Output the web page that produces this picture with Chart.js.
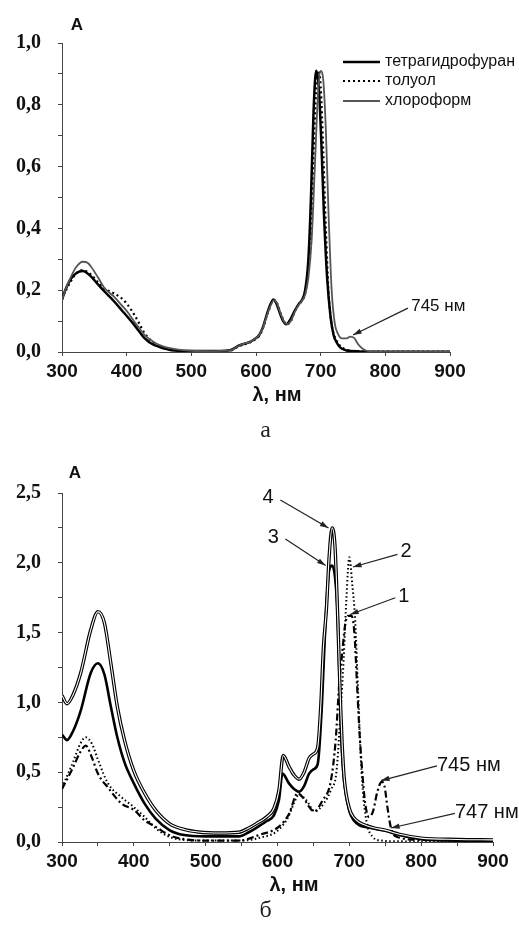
<!DOCTYPE html>
<html>
<head>
<meta charset="utf-8">
<script src="https://cdn.jsdelivr.net/npm/chart.js@4.4.1/dist/chart.umd.min.js"></script>
<style>
  body { margin: 0; background: #fff; width: 519px; height: 931px; position: relative; overflow: hidden; }
  canvas { position: absolute; left: 0; }
  #chartA { top: 0; }
  #chartB { top: 440px; }
  .cap { position: absolute; left: 6px; width: 519px; text-align: center;
         font-family: 'Liberation Serif', serif; font-size: 24px; color: #222; }
</style>
</head>
<body>
<canvas id="chartA" width="519" height="420"></canvas>
<div class="cap" style="top:416px">а</div>
<canvas id="chartB" width="519" height="470"></canvas>
<div class="cap" style="top:896px">б</div>
<script>
// ---- panel а: solvents ----
const thfNm = [300,305,314,322,332,345,356,366,380,392,402,412,420,428,440,450,460,469,480,500,530,560,575,590,598,605,611,618,627,632,637,642,647,653,660,666,671,676,681,685,689,693,697,701,705,710,715,720,725,730,740,760,800,900];
const thfA  = [0.17,0.2,0.238,0.255,0.262,0.244,0.218,0.195,0.165,0.136,0.112,0.087,0.065,0.044,0.025,0.017,0.01,0.006,0.004,0.003,0.003,0.006,0.022,0.032,0.042,0.055,0.082,0.13,0.17,0.155,0.125,0.1,0.09,0.105,0.134,0.155,0.168,0.2,0.3,0.5,0.78,0.91,0.86,0.68,0.45,0.24,0.12,0.055,0.03,0.015,0.005,0.002,0.001,0.001];

const tolNm = [300,305,314,322,332,345,356,366,380,392,400,412,420,428,440,450,460,469,480,500,530,560,575,590,598,605,611,618,628,633,638,643,648,654,660,666,671,676,681,686,690,694,697,700,704,708,712,716,720,725,730,740,760,800,900];
const tolA  = [0.17,0.195,0.23,0.255,0.265,0.25,0.225,0.205,0.19,0.174,0.157,0.12,0.09,0.06,0.033,0.02,0.012,0.008,0.005,0.003,0.003,0.005,0.02,0.03,0.04,0.053,0.078,0.125,0.168,0.155,0.125,0.1,0.09,0.1,0.132,0.153,0.166,0.19,0.27,0.45,0.7,0.88,0.91,0.86,0.65,0.4,0.2,0.1,0.06,0.035,0.02,0.007,0.002,0.001,0.001];

const chlNm = [300,305,314,322,332,340,345,356,366,380,392,402,412,420,428,440,450,460,469,480,500,530,560,575,590,598,605,611,618,628,633,638,643,648,654,660,666,671,676,681,686,691,696,700,704,708,712,717,722,727,733,740,746,752,758,764,771,780,800,900];
const chlA  = [0.168,0.2,0.244,0.275,0.292,0.288,0.276,0.24,0.206,0.18,0.152,0.128,0.098,0.076,0.055,0.035,0.023,0.016,0.012,0.008,0.004,0.003,0.005,0.022,0.032,0.042,0.055,0.08,0.125,0.168,0.155,0.125,0.1,0.09,0.1,0.13,0.152,0.165,0.185,0.24,0.36,0.6,0.84,0.91,0.88,0.72,0.46,0.2,0.09,0.058,0.044,0.044,0.05,0.045,0.025,0.012,0.004,0.002,0.001,0.001];

const solventNames = ['тетрагидрофуран', 'толуол', 'хлороформ'];

// ---- panel б: curves 1-4 ----
const c1Nm = [300,316,325,333,342,350,364,383,400,415,430,450,470,500,546,574,602,616,628,635,651,663,674,681,686,690,694,698,703,707,711,714,718,722,727,733,739,745,749,753,758,765,800,900];
const c1A  = [0.38,0.54,0.64,0.69,0.6,0.49,0.39,0.275,0.23,0.155,0.11,0.048,0.02,0.01,0.01,0.05,0.11,0.2,0.35,0.32,0.22,0.3,0.43,0.73,1.14,1.35,1.55,1.62,1.62,1.5,1.1,0.8,0.5,0.28,0.18,0.22,0.36,0.43,0.4,0.25,0.1,0.04,0.015,0.01];

const c2Nm = [300,316,325,333,342,350,364,383,400,415,430,450,470,500,550,575,600,615,623,630,640,652,665,675,682,688,692,696,700,704,708,712,716,720,725,732,745,770,800,900];
const c2A  = [0.39,0.58,0.7,0.75,0.7,0.59,0.42,0.32,0.25,0.18,0.1,0.036,0.015,0.01,0.01,0.03,0.08,0.18,0.28,0.34,0.3,0.22,0.28,0.38,0.5,0.95,1.3,1.75,2.04,1.85,1.6,1.1,0.6,0.3,0.12,0.04,0.01,0.005,0.003,0.003];

const c3Nm = [300,307,315,326,340,350,359,368,377,387,400,415,430,450,470,500,546,560,570,585,595,602,607,616,623,630,637,644,650,656,662,667,672,676,680,684,686,688,690,693,700,707,714,725,735,750,770,800,850,900];
const c3A  = [0.77,0.73,0.79,0.94,1.21,1.28,1.2,0.97,0.75,0.57,0.42,0.275,0.17,0.084,0.05,0.04,0.04,0.07,0.1,0.15,0.19,0.3,0.49,0.42,0.38,0.36,0.4,0.49,0.52,0.56,1.0,1.6,1.95,1.98,1.9,1.6,1.22,0.85,0.62,0.42,0.22,0.15,0.12,0.105,0.095,0.08,0.05,0.02,0.01,0.01];

const c4Nm = [300,307,315,326,340,350,359,368,377,387,400,415,430,450,470,490,520,546,560,570,585,595,602,608,616,623,630,637,644,650,656,660,664,668,672,676,680,683.5,686,688,690,693,700,707,714,725,735,750,770,800,850,900];
const c4A  = [1.05,0.99,1.05,1.21,1.52,1.65,1.57,1.28,0.97,0.73,0.51,0.35,0.23,0.13,0.09,0.072,0.065,0.07,0.1,0.13,0.18,0.24,0.37,0.62,0.54,0.48,0.45,0.5,0.6,0.63,0.68,0.95,1.4,1.66,2.05,2.25,2.12,1.66,1.26,0.95,0.7,0.45,0.24,0.17,0.14,0.115,0.1,0.085,0.055,0.028,0.018,0.015];

function pts(xs, ys) {
    return xs.map((v, i) => ({ x: v, y: ys[i] }));
}

function line(xs, ys, extra) {
    return Object.assign({
        data: pts(xs, ys),
        borderColor: '#000',
        borderWidth: 2,
        pointRadius: 0,
        fill: false,
        cubicInterpolationMode: 'monotone'
    }, extra);
}

function comma(v, digits) {
    return v.toFixed(digits).replace('.', ',');
}

// text, arrows and legend drawn on top of the plot
const overlay = {
    id: 'overlay',
    afterDraw(chart, args, opts) {
        const ctx = chart.ctx;
        const sx = chart.scales.x, sy = chart.scales.y;
        ctx.save();
        ctx.fillStyle = '#111';
        ctx.textBaseline = 'middle';
        ctx.textAlign = 'center';
        ctx.font = 'bold 17px "Liberation Sans", Arial, sans-serif';
        ctx.fillText('A', opts.aPos[0], opts.aPos[1]);
        ctx.font = 'bold 20px "Liberation Sans", Arial, sans-serif';
        ctx.fillText('λ, нм', opts.titlePos[0], opts.titlePos[1]);

        // arrows
        ctx.strokeStyle = '#222';
        ctx.lineWidth = 1.2;
        opts.arrows.forEach(a => {
            const fx = sx.getPixelForValue(a.from[0]), fy = sy.getPixelForValue(a.from[1]);
            const tx = sx.getPixelForValue(a.tip[0]), ty = sy.getPixelForValue(a.tip[1]);
            const ang = Math.atan2(ty - fy, tx - fx);
            ctx.beginPath();
            ctx.moveTo(fx, fy);
            ctx.lineTo(tx, ty);
            ctx.stroke();
            ctx.beginPath();
            ctx.moveTo(tx, ty);
            ctx.lineTo(tx - 9 * Math.cos(ang - 0.3), ty - 9 * Math.sin(ang - 0.3));
            ctx.lineTo(tx - 9 * Math.cos(ang + 0.3), ty - 9 * Math.sin(ang + 0.3));
            ctx.closePath();
            ctx.fillStyle = '#222';
            ctx.fill();
            const lx = sx.getPixelForValue(a.label[0]), ly = sy.getPixelForValue(a.label[1]);
            ctx.font = opts.noteSize + 'px "Liberation Sans", Arial, sans-serif';
            ctx.textAlign = a.align;
            ctx.fillStyle = '#111';
            ctx.fillText(a.text, lx, ly);
        });

        // legend with line samples
        if (opts.legend) {
            const lg = opts.legend;
            chart.data.datasets.forEach((ds, i) => {
                if (!ds.label) return;
                const y = lg.ys[i];
                ctx.beginPath();
                ctx.setLineDash(ds.borderDash || []);
                ctx.strokeStyle = ds.borderColor;
                ctx.lineWidth = ds.borderWidth;
                ctx.moveTo(lg.x0, y);
                ctx.lineTo(lg.x1, y);
                ctx.stroke();
                ctx.setLineDash([]);
                ctx.font = '16px "Liberation Sans", Arial, sans-serif';
                ctx.textAlign = 'left';
                ctx.fillStyle = '#111';
                ctx.fillText(ds.label, lg.tx, y);
            });
        }
        ctx.restore();
    }
};

function axes(yMax, yStep, yLabelEvery, xHeight) {
    const tickFontX = { family: '"Liberation Sans", Arial, sans-serif', size: 19, weight: 'bold' };
    const tickFontY = { family: '"Liberation Serif", "Times New Roman", serif', size: 20, weight: 'bold' };
    return {
        x: {
            type: 'linear', min: 300, max: 900,
            afterFit: s => { s.height = xHeight; },
            border: { color: '#444', width: 1 },
            grid: { drawOnChartArea: false, tickLength: 4, color: '#444' },
            ticks: {
                stepSize: 50, padding: 4, color: '#111', font: tickFontX, maxRotation: 0,
                callback: v => (v % 100 === 0 ? String(v) : '')
            }
        },
        y: {
            min: 0, max: yMax,
            afterFit: s => { s.width = 62; },
            border: { color: '#444', width: 1 },
            grid: { drawOnChartArea: false, tickLength: 4, color: '#444' },
            ticks: {
                stepSize: yStep, padding: 17, color: '#111', font: tickFontY,
                callback: v => {
                    const k = Math.round(v / yStep);
                    return k % yLabelEvery === 0 ? comma(v, 1) : '';
                }
            }
        }
    };
}

new Chart(document.getElementById('chartA'), {
    type: 'line',
    data: {
        datasets: [
            line(thfNm, thfA, { label: solventNames[0], borderWidth: 2.5, order: 1 }),
            line(tolNm, tolA, { label: solventNames[1], borderWidth: 2.2, borderDash: [2, 3], order: 2 }),
            line(chlNm, chlA, { label: solventNames[2], borderWidth: 1.8, borderColor: '#555', order: 0 })
        ]
    },
    options: {
        responsive: false,
        animation: false,
        layout: { padding: { top: 43, right: 69, left: 0, bottom: 0 } },
        scales: axes(1.0, 0.1, 2, 68),
        plugins: {
            legend: { display: false },
            tooltip: { enabled: false },
            overlay: {
                aPos: [77, 25],
                titlePos: [277, 395],
                noteSize: 17,
                legend: { x0: 343, x1: 380, ys: [62, 81, 101], tx: 385 },
                arrows: [
                    { from: [835, 0.142], tip: [750, 0.055], label: [840, 0.147], text: '745 нм', align: 'left' }
                ]
            }
        }
    },
    plugins: [overlay]
});

new Chart(document.getElementById('chartB'), {
    type: 'line',
    data: {
        datasets: [
            line(c4Nm, c4A, { borderWidth: 1.1, borderColor: '#fff', order: 0 }),
            line(c4Nm, c4A, { borderWidth: 3.4, order: 1 }),
            line(c3Nm, c3A, { borderWidth: 2.6, order: 2 }),
            line(c2Nm, c2A, { borderWidth: 2, borderDash: [1.5, 2.5], order: 3 }),
            line(c1Nm, c1A, { borderWidth: 2.2, borderDash: [7, 3, 2, 3], order: 4 })
        ]
    },
    options: {
        responsive: false,
        animation: false,
        layout: { padding: { top: 53, right: 26, left: 0, bottom: 0 } },
        scales: axes(2.5, 0.25, 2, 68),
        plugins: {
            legend: { display: false },
            tooltip: { enabled: false },
            overlay: {
                aPos: [75, 33],
                titlePos: [294, 445],
                noteSize: 20,
                arrows: [
                    { from: [604, 2.45], tip: [671, 2.25], label: [587, 2.47], text: '4', align: 'center' },
                    { from: [611, 2.17], tip: [667, 1.98], label: [594, 2.18], text: '3', align: 'center' },
                    { from: [767, 2.06], tip: [705, 1.97], label: [779, 2.08], text: '2', align: 'center' },
                    { from: [764, 1.75], tip: [701, 1.63], label: [776, 1.76], text: '1', align: 'center' },
                    { from: [822, 0.545], tip: [744, 0.44], label: [822, 0.55], text: '745 нм', align: 'left' },
                    { from: [847, 0.205], tip: [758, 0.1], label: [847, 0.21], text: '747 нм', align: 'left' }
                ]
            }
        }
    },
    plugins: [overlay]
});
</script>
</body>
</html>
